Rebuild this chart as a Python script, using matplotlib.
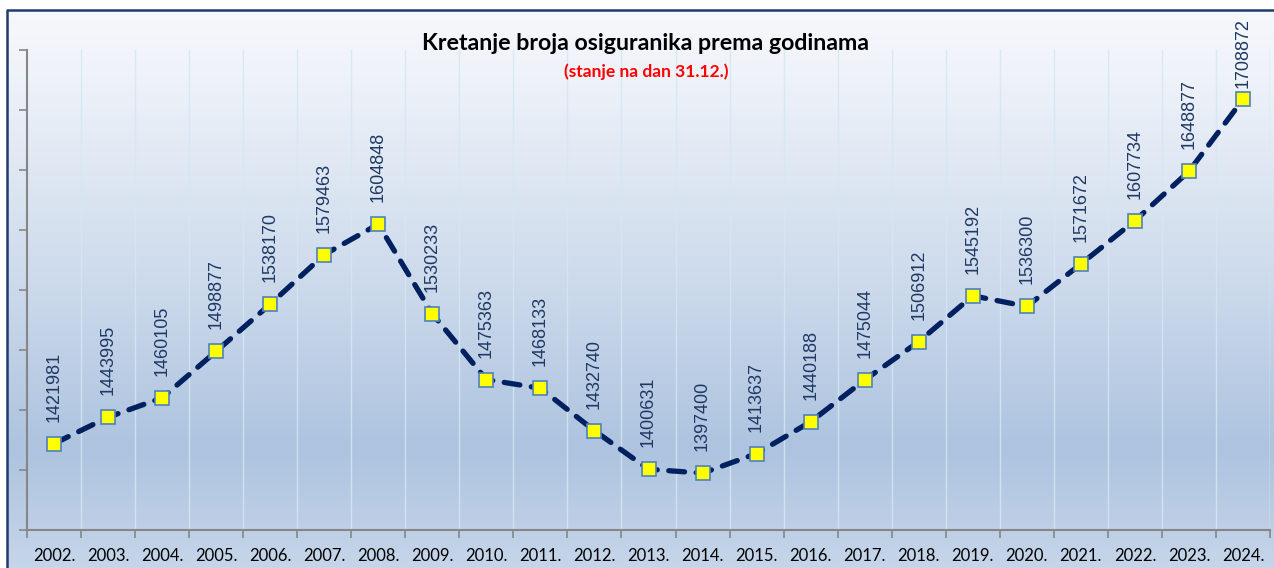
import matplotlib
matplotlib.use("Agg")
import matplotlib.pyplot as plt
import numpy as np
from matplotlib.colors import LinearSegmentedColormap

years = ["2002.", "2003.", "2004.", "2005.", "2006.", "2007.", "2008.", "2009.",
         "2010.", "2011.", "2012.", "2013.", "2014.", "2015.", "2016.", "2017.",
         "2018.", "2019.", "2020.", "2021.", "2022.", "2023.", "2024."]
insured = [1421981, 1443995, 1460105, 1498877, 1538170, 1579463, 1604848, 1530233,
           1475363, 1468133, 1432740, 1400631, 1397400, 1413637, 1440188, 1475044,
           1506912, 1545192, 1536300, 1571672, 1607734, 1648877, 1708872]

title = "Kretanje broja osiguranika prema godinama"
subtitle = "(stanje na dan 31.12.)"

W, H = 1274, 568
fig = plt.figure(figsize=(W / 100, H / 100), dpi=100)
fig.patch.set_facecolor("white")

# background gradient panel
bg = fig.add_axes([0, 0, 1, 1])
bg.set_xlim(0, W)
bg.set_ylim(H, 0)
bg.axis("off")
cmap = LinearSegmentedColormap.from_list(
    "bg", [(0.0, "#f6f8fc"), (0.12, "#eef2f9"), (0.5, "#cbd9eb"),
           (0.78, "#adc3df"), (1.0, "#c7d6ea")])
grad = np.linspace(0, 1, 256).reshape(-1, 1)
bg.imshow(grad, cmap=cmap, aspect="auto", extent=[7, W + 5, H + 5, 10],
          interpolation="bicubic", zorder=0)
bg.plot([7, 7, W + 5], [H + 5, 10, 10], color="#1f3a6e", lw=1.8, zorder=2,
        solid_capstyle="butt")

ax = fig.add_axes([27 / W, (H - 530) / H, 1243 / W, 480 / H])
ax.patch.set_alpha(0)
n = len(years)
x = np.arange(n)
ax.set_xlim(-0.5, n - 0.5)
ax.set_ylim(1350000, 1750000)

# vertical grid lines at category boundaries
for b in np.arange(0.5, n, 1.0):
    ax.axvline(b, color="#d3e8f3", lw=1.0, zorder=1, alpha=0.85)
ax.axvline(n - 0.5, color="#d3e8f3", lw=1.0, zorder=1, alpha=0.85)

ax.plot(x, insured, color="#002060", lw=3.8, ls=(0, (3.0, 2.2)),
        dash_capstyle="round", marker="s", markersize=10,
        markerfacecolor="#ffff00", markeredgecolor="#4f81bd",
        markeredgewidth=1.2, zorder=3)

# data labels: placed above markers, kept inside the chart frame
fig.canvas.draw()
label_len_px = 70
top_limit_px = 18
for xi, v in zip(x, insured):
    ypix = H - ax.transData.transform((xi, v))[1]  # from top
    off_px = 22
    if ypix - off_px - label_len_px < top_limit_px:
        off_px = max(8, ypix - label_len_px - top_limit_px)
    ax.annotate(f"{v}", (xi, v), xytext=(0, off_px * 0.72), textcoords="offset points",
                rotation=90, ha="center", va="bottom", fontsize=13,
                family="Liberation Sans", color="#1f3864", zorder=4)

ax.set_yticks(np.arange(1350000, 1750001, 50000))
ax.set_yticklabels([])
ax.tick_params(axis="y", direction="out", length=6, color="#868686", width=1.2)
ax.set_xticks(np.arange(-0.5, n, 1.0))
ax.set_xticklabels([])
ax.tick_params(axis="x", which="major", direction="out", length=6,
               color="#868686", width=1.2)
ax.set_xticks(x, minor=True)
ax.set_xticklabels(years, minor=True, fontsize=12, family="Lato")
ax.tick_params(axis="x", which="minor", length=0, pad=13, colors="black")

for s in ["top", "right"]:
    ax.spines[s].set_visible(False)
for s in ["left", "bottom"]:
    ax.spines[s].set_color("#868686")
    ax.spines[s].set_linewidth(1.5)

fig.text(646 / W, 1 - 43 / H, title, ha="center", va="center",
         fontsize=16.7, fontweight="bold", family="Lato", color="black")
fig.text(646 / W, 1 - 72 / H, subtitle, ha="center", va="center",
         fontsize=12.5, fontweight="bold", family="Lato", color="#ff0000")

fig.savefig("out.png", dpi=100)
